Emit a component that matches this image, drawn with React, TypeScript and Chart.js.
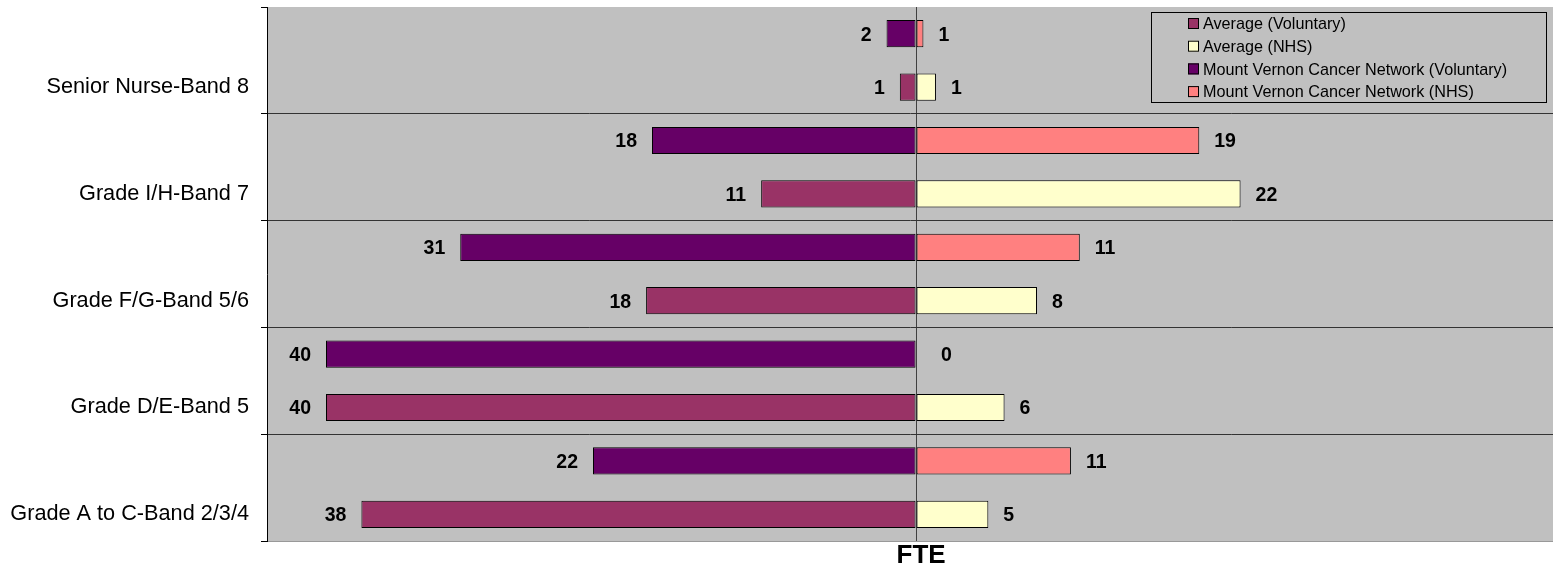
import React, { useEffect, useRef } from 'react';
import { Chart, registerables } from 'chart.js';

Chart.register(...registerables);

const categories = [
  'Senior Nurse-Band 8',
  'Grade I/H-Band 7',
  'Grade F/G-Band 5/6',
  'Grade D/E-Band 5',
  'Grade A to C-Band 2/3/4',
];
const mvVoluntary = [2.0, 17.9, 30.9, 40.0, 21.9];
const mvNHS = [0.5, 19.2, 11.1, 0, 10.5];
const avgVoluntary = [1.1, 10.5, 18.3, 40.0, 37.6];
const avgNHS = [1.35, 22.0, 8.2, 6.0, 4.9];
const seriesLabels = [
  'Average (Voluntary)',
  'Average (NHS)',
  'Mount Vernon Cancer Network (Voluntary)',
  'Mount Vernon Cancer Network (NHS)',
];
const seriesColors = ['#993366', '#FFFFCC', '#660066', '#FF8080'];
const axisTitle = 'FTE';

const FONT = '"Liberation Sans", Arial, sans-serif';

// two rows per category: Mount Vernon (upper) and Average (lower, labelled)
const rowLabels: string[] = [];
categories.forEach((c) => {
  rowLabels.push('');
  rowLabels.push(c);
});
const rowData = (vals: number[], lower: boolean, negative: boolean) => {
  const out: (number | null)[] = [];
  vals.forEach((v) => {
    const val = negative ? -v : v;
    out.push(lower ? null : val);
    out.push(lower ? val : null);
  });
  return out;
};

const bgPlugin = {
  id: 'bgPlugin',
  beforeDraw(chart: any) {
    const { ctx, chartArea } = chart;
    ctx.save();
    ctx.fillStyle = '#C0C0C0';
    ctx.fillRect(chartArea.left, chartArea.top, chartArea.right - chartArea.left, chartArea.bottom - chartArea.top);
    ctx.restore();
  },
};

const valueLabelPlugin = {
  id: 'valueLabelPlugin',
  afterDatasetsDraw(chart: any) {
    const ctx = chart.ctx;
    const xs = chart.scales.x;
    const size = 19.5;
    ctx.save();
    ctx.font = `bold ${size}px ${FONT}`;
    ctx.fillStyle = '#000';
    ctx.textBaseline = 'alphabetic';
    chart.data.datasets.forEach((ds: any, di: number) => {
      const meta = chart.getDatasetMeta(di);
      meta.data.forEach((el: any, i: number) => {
        const v = ds.data[i];
        if (v === null || v === undefined) return;
        const { y } = el.getProps(['y'], true);
        const x = xs.getPixelForValue(v);
        const txt = String(Math.round(Math.abs(v)));
        const yy = y + 0.716 * size / 2;
        if (v < 0) {
          ctx.textAlign = 'right';
          ctx.fillText(txt, x - 15, yy);
        } else {
          ctx.textAlign = 'left';
          ctx.fillText(txt, x + (v === 0 ? 25 : 15), yy);
        }
      });
    });
    ctx.restore();
  },
};

const legendPlugin = {
  id: 'boxLegend',
  afterDraw(chart: any) {
    const { ctx, chartArea } = chart;
    const w = 395;
    const h = 90;
    const x0 = chartArea.right - 7 - w;
    const y0 = chartArea.top + 5;
    ctx.save();
    ctx.fillStyle = '#C0C0C0';
    ctx.fillRect(x0, y0, w, h);
    ctx.strokeStyle = '#000';
    ctx.lineWidth = 1;
    ctx.strokeRect(x0 + 0.5, y0 + 0.5, w, h);
    const fs = 16.2;
    ctx.font = `${fs}px ${FONT}`;
    ctx.textAlign = 'left';
    ctx.textBaseline = 'alphabetic';
    chart.data.datasets.forEach((ds: any, i: number) => {
      const cy = y0 + 11.5 + i * 22.7;
      ctx.fillStyle = ds.backgroundColor;
      ctx.fillRect(x0 + 37, cy - 5.5, 11, 11);
      ctx.strokeStyle = '#000';
      ctx.strokeRect(x0 + 37.5, cy - 5, 10, 10);
      ctx.fillStyle = '#000';
      ctx.fillText(ds.label, x0 + 52, cy + 0.716 * fs / 2);
    });
    ctx.restore();
  },
};

const axisTitlePlugin = {
  id: 'axisTitlePlugin',
  afterDraw(chart: any) {
    const { ctx } = chart;
    const xs = chart.scales.x;
    ctx.save();
    ctx.font = `bold 26px ${FONT}`;
    ctx.fillStyle = '#000';
    ctx.textAlign = 'center';
    ctx.textBaseline = 'alphabetic';
    ctx.fillText(axisTitle, xs.getPixelForValue(0) + 5, 563);
    ctx.restore();
  },
};

export default function App() {
  const canvasRef = useRef<HTMLCanvasElement | null>(null);

  useEffect(() => {
    if (!canvasRef.current) return;
    const datasets = [
      { label: seriesLabels[0], data: rowData(avgVoluntary, true, true), backgroundColor: seriesColors[0] },
      { label: seriesLabels[1], data: rowData(avgNHS, true, false), backgroundColor: seriesColors[1] },
      { label: seriesLabels[2], data: rowData(mvVoluntary, false, true), backgroundColor: seriesColors[2] },
      { label: seriesLabels[3], data: rowData(mvNHS, false, false), backgroundColor: seriesColors[3] },
    ].map((d) => ({
      ...d,
      borderColor: '#000',
      borderWidth: 1,
      borderSkipped: false,
      barPercentage: 0.51,
      categoryPercentage: 1.0,
    }));

    const chart = new Chart(canvasRef.current, {
      type: 'bar',
      data: { labels: rowLabels, datasets: datasets as any },
      options: {
        indexAxis: 'y',
        animation: false,
        responsive: false,
        maintainAspectRatio: false,
        layout: { padding: { top: 7, right: 0, left: 0, bottom: 0 } },
        plugins: {
          legend: { display: false },
          tooltip: { enabled: false },
          title: { display: false },
        },
        scales: {
          x: {
            stacked: true,
            min: -44,
            max: 43.18,
            afterBuildTicks: (s: any) => {
              s.ticks = [{ value: 0 }];
            },
            afterFit: (s: any) => {
              s.height = 27;
              s.paddingLeft = 0;
              s.paddingRight = 0;
            },
            ticks: { display: false },
            grid: {
              color: (c: any) => (c.tick && c.tick.value === 0 ? '#404040' : 'rgba(0,0,0,0)'),
              drawTicks: false,
            },
            border: { display: true, color: '#999999' },
          },
          y: {
            stacked: true,
            afterFit: (s: any) => {
              s.width = 267;
              s.paddingTop = 0;
              s.paddingBottom = 0;
            },
            ticks: {
              autoSkip: false,
              color: '#000',
              padding: 12,
              font: { family: FONT, size: 21.7 },
            },
            grid: {
              offset: true,
              tickLength: 6,
              color: (c: any) => {
                if (c.type !== 'tick') return '#999999';
                if (c.index === 0) return 'rgba(0,0,0,0)';
                return c.index % 2 === 0 ? '#333333' : 'rgba(0,0,0,0)';
              },
              tickColor: (c: any) => {
                if (c.type !== 'tick') return '#000';
                return c.index % 2 === 0 ? '#000' : 'rgba(0,0,0,0)';
              },
            },
            border: { display: true, color: '#000', width: 1 },
          },
        },
      },
      plugins: [bgPlugin, valueLabelPlugin, legendPlugin, axisTitlePlugin],
    });
    return () => chart.destroy();
  }, []);

  return (
    <div style={{ position: 'absolute', left: 0, top: 0, width: 1553, height: 568, background: '#fff' }}>
      <canvas ref={canvasRef} width={1553} height={568} style={{ display: 'block' }} />
    </div>
  );
}
